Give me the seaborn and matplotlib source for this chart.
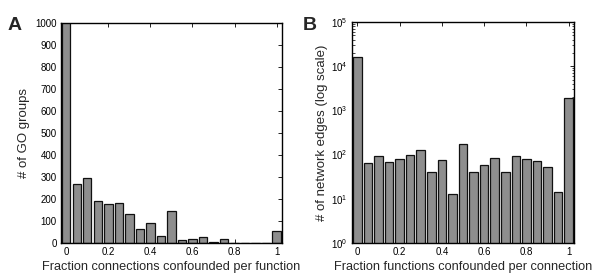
import numpy as np
import pandas as pd
import matplotlib
matplotlib.use('Agg')
import matplotlib.pyplot as plt
import seaborn as sns

# bin centres shared by both histograms
bins = [0.0, 0.05, 0.1, 0.15, 0.2, 0.25, 0.3, 0.35, 0.4, 0.45, 0.5,
        0.55, 0.6, 0.65, 0.7, 0.75, 0.8, 0.85, 0.9, 0.95, 1.0]

# panel A: GO groups per fraction of connections confounded
go_groups = [1450, 270, 295, 190, 175, 180, 130, 62, 92, 32, 147,
             15, 20, 25, 5, 20, 1, 1, 1, 1, 55]

# panel B: network edges per fraction of functions confounded (log scale)
net_edges = [16000, 65, 91, 68, 81, 96, 127, 40, 77, 13, 170,
             40, 57, 84, 40, 91, 80, 72, 53, 14, 1900]

sns.set_style('white')
plt.rcParams['font.family'] = ['Liberation Sans', 'DejaVu Sans']

fig = plt.figure(figsize=(6.02, 2.75), dpi=100)
ax1 = fig.add_axes([0.1013, 0.1164, 0.367, 0.80])
ax2 = fig.add_axes([0.5847, 0.1164, 0.3688, 0.8036])

bar_kw = dict(native_scale=True, width=0.8, color='#8e8e8e',
              edgecolor='#111111', linewidth=0.9, saturation=1)

dfa = pd.DataFrame({'frac': bins, 'count': go_groups})
sns.barplot(data=dfa, x='frac', y='count', ax=ax1, **bar_kw)
ax1.set_xlim(-0.025, 1.025)
ax1.set_ylim(0, 1000)
ax1.set_yticks(np.arange(0, 1001, 100))
ax1.set_xticks([0, 0.2, 0.4, 0.6, 0.8, 1])
ax1.set_xticklabels(['0', '0.2', '0.4', '0.6', '0.8', '1'])
ax1.set_xlabel('Fraction connections confounded per function', fontsize=9.2, labelpad=3)
ax1.set_ylabel('# of GO groups', fontsize=9.5, labelpad=4)

dfb = pd.DataFrame({'frac': bins, 'count': net_edges})
ax2.set_yscale('log')
sns.barplot(data=dfb, x='frac', y='count', ax=ax2, **bar_kw)
ax2.set_yscale('log')
ax2.set_xlim(-0.025, 1.025)
ax2.set_ylim(1, 1e5)
ax2.set_xticks([0, 0.2, 0.4, 0.6, 0.8, 1])
ax2.set_xticklabels(['0', '0.2', '0.4', '0.6', '0.8', '1'])
ax2.set_xlabel('Fraction functions confounded per connection', fontsize=9.2, labelpad=3)
ax2.set_ylabel('# of network edges (log scale)', fontsize=9.5, labelpad=2)

for ax in (ax1, ax2):
    for s in ax.spines.values():
        s.set_visible(True)
        s.set_color('black')
        s.set_linewidth(1.0)
    ax.tick_params(direction='in', top=True, right=True, bottom=True, left=True,
                   length=3, width=0.6, colors='black', labelsize=7, pad=3)
    ax.tick_params(which='minor', direction='in', right=True, left=True,
                   length=1.8, width=0.5, colors='black')

fig.text(0.012, 0.89, 'A', fontsize=14, fontweight='bold')
fig.text(0.503, 0.89, 'B', fontsize=14, fontweight='bold')

fig.savefig('out.png', dpi=100)
